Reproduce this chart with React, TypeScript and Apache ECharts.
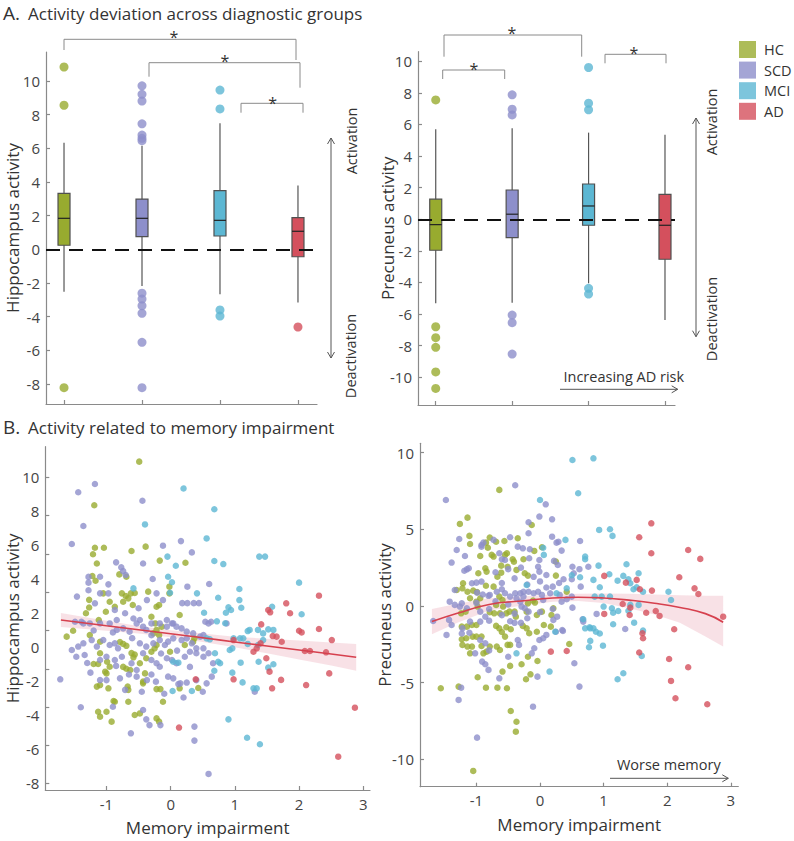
import React, { useEffect, useRef } from 'react';
import * as echarts from 'echarts';

const FONT = '"Open Sans", sans-serif';
const TEXT = '#333';
const AXIS = '#8a8a8a';

const GROUPS = ['HC', 'SCD', 'MCI', 'AD'];
const COLORS = ['#98ab2f', '#8d8fcb', '#5cb7d3', '#d4505d'];
const CAT_POS = [0, 1, 2, 3];

// box stats: [low whisker, q1, median, q3, high whisker]
const hippoBox = [
  [-2.52, 0.24, 1.84, 3.32, 6.33],
  [-2.18, 0.75, 1.84, 2.98, 6.15],
  [-2.67, 0.79, 1.72, 3.48, 7.48],
  [-3.15, -0.44, 1.07, 1.88, 3.78],
];
const precuneusBox = [
  [-5.32, -1.96, -0.34, 1.27, 5.7],
  [-5.28, -1.16, 0.32, 1.85, 5.76],
  [-4.05, -0.38, 0.84, 2.23, 5.48],
  [-6.37, -2.53, -0.38, 1.58, 5.34],
];
const hippoOutliers = [
  [10.82, 8.55, -8.21],
  [9.7, 9.2, 8.8, 7.45, 6.78, 6.59, 6.45, -2.6, -2.95, -3.35, -3.8, -5.52, -8.21],
  [9.45, 8.33, -3.6, -3.96],
  [-4.61],
];
const precuneusOutliers = [
  [7.55, -6.8, -7.49, -8.1, -9.66, -10.7],
  [7.87, 6.96, 6.6, -6.06, -6.54, -8.53],
  [9.6, 7.34, 6.92, -4.37, -4.73],
  [],
];

// B: memory impairment vs hippocampus activity
const hcMemHippo = [
  [-0.49, 10.82], [-1.19, 8.54], [-1.18, 6.32], [-1.04, 6.32], [-1.21, 5.98], [-1.15, 5.5], [-0.61, 6.15], [-0.39, 6.38],
  [-0.17, 5.65], [0.23, 5.54], [-0.8, 4.93], [-0.69, 4.81], [-1.22, 4.85], [-1.17, 4.6], [-0.76, 3.94], [-0.7, 3.8],
  [-0.66, 3.68], [-0.62, 3.94], [-0.74, 3.5], [-0.59, 3.33], [-0.56, 3.96], [-0.35, 4.03], [-0.02, 4.29], [-0.02, 3.94],
  [0.14, 2.81], [0.37, 1.59], [-1.05, 3.94], [-1.27, 3.6], [-1.27, 3.2], [-1.32, 2.9], [-1.12, 2.55], [-1.52, 1.99],
  [-1.62, 1.68], [-0.95, 3.5], [-0.87, 3.24], [-1.01, 2.98], [-0.22, 3.24], [-0.18, 3.33], [-0.24, 2.37], [-0.22, 2.03],
  [-0.18, 1.76], [-0.3, 2.72], [-1.26, 1.76], [-1.1, 1.41], [-1.1, 0.81], [-1.2, 0.25], [-1.13, 0.25], [-1.15, -0.93],
  [-1.1, -0.85], [-0.99, 0.37], [-0.95, 0.11], [-1.02, -0.15], [-1.0, -0.24], [-0.97, -1.02], [-1.13, -2.24], [-1.1, -2.5],
  [-0.87, -1.72], [-0.67, -0.93], [-0.66, -1.1], [-0.66, -1.72], [-0.43, -0.67], [-0.43, -0.76], [-0.4, -0.24], [-0.22, -1.06],
  [-0.16, -1.06], [-0.12, -1.72], [-0.48, -2.33], [-0.74, 0.1], [-0.69, 0.0], [-0.63, -0.06], [-0.61, 0.82], [-0.58, 0.6],
  [-0.56, 0.75], [-0.79, 1.4], [-0.69, 1.2], [-0.74, 1.3], [-0.48, 0.29], [-0.38, 0.55], [-0.3, 0.89], [-0.25, 1.07],
  [-0.22, 1.24], [-0.27, 1.85], [-0.14, 2.2], [-0.01, 0.89], [0.22, 1.24], [0.35, 1.41], [-0.22, -2.59], [-0.18, -2.76],
  [0.14, -1.02], [0.43, -1.0], [-1.0, -2.24], [-0.92, -2.76], [-0.56, -2.41], [-0.89, -1.68],
];
const scdMemHippo = [
  [-1.54, 6.52], [-1.44, 9.22], [-1.36, 7.46], [-1.18, 9.65], [-0.44, 8.78], [-0.43, 5.5], [-0.12, 6.43], [0.16, 6.67],
  [0.33, 6.08], [-0.85, 5.56], [-0.77, 5.3], [-0.74, 5.1], [-0.7, 4.9], [-1.28, 4.8], [-1.28, 4.5], [-1.28, 4.1],
  [-0.97, 4.41], [-0.28, 4.69], [0.26, 4.29], [0.6, 4.43], [0.18, 3.43], [0.26, 3.43], [0.36, 3.43], [0.44, 3.43],
  [0.54, 2.46], [0.63, 2.46], [-0.97, 3.94], [-1.1, 3.94], [-1.18, 3.42], [-1.39, 2.46], [-1.49, 2.46], [-0.84, 2.55],
  [-0.71, 2.9], [-0.58, 2.63], [-0.48, 2.55], [-0.43, 2.2], [-0.06, 2.55], [0.04, 2.37], [-0.5, 3.16], [-0.37, 3.59],
  [-0.22, 3.94], [-0.12, 3.59], [-0.87, 3.07], [-1.46, 3.77], [-1.1, 4.81], [-1.36, 2.37], [-1.26, 2.37], [-1.1, 2.37],
  [-0.95, 2.37], [-0.53, 2.37], [-0.3, 2.37], [-0.17, 2.37], [0.02, 2.37], [0.59, 2.37], [-0.74, 2.11], [-0.84, 2.03],
  [-0.64, 1.94], [-0.38, 2.03], [-0.06, 2.2], [0.09, 2.2], [0.17, 2.11], [0.25, 1.94], [0.35, 1.85], [0.46, 1.68],
  [0.51, 1.76], [0.87, 2.37], [-1.54, 0.98], [-1.44, 1.16], [-1.36, 1.33], [-1.23, 1.5], [-1.15, 1.16], [-1.05, 1.5],
  [-0.95, 1.24], [-0.87, 1.33], [-0.82, 1.07], [-0.48, 1.33], [-0.38, 1.16], [-0.27, 1.33], [-0.17, 1.5], [-0.09, 1.24],
  [-0.04, 1.42], [0.04, 1.59], [0.17, 1.5], [0.25, 1.59], [0.33, 1.33], [0.4, 1.07], [0.51, 1.07], [-1.47, 0.63],
  [-1.34, 0.72], [-1.1, 0.46], [-1.0, 0.63], [-0.87, 0.46], [-0.76, 0.63], [-0.61, 0.29], [-0.53, -0.06], [-0.43, 0.81],
  [-0.3, 0.46], [-0.22, 0.29], [-0.17, 0.11], [-0.06, 0.55], [0.02, 0.46], [0.09, 0.29], [0.22, 0.63], [0.3, 0.89],
  [0.4, 0.81], [0.51, 0.63], [0.59, 0.81], [0.66, 0.29], [-1.1, -0.59], [-1.0, -0.59], [-0.79, -0.5], [-0.53, -0.41],
  [-0.37, -0.59], [-0.04, -0.41], [0.04, -0.5], [0.15, -0.76], [0.25, -0.72], [0.4, -0.59], [0.56, -0.76], [0.64, -0.41],
  [-0.62, -3.37], [-0.33, -2.94], [-0.38, -2.64], [-0.16, -2.94], [0.37, -3.02], [0.37, -3.75], [-1.4, -2.01], [-1.72, -0.55],
  [-0.9, -1.98], [-0.71, -1.1], [-0.43, -2.15], [-0.23, -0.67], [0.12, -0.8], [1.31, -1.2], [0.59, -5.49],
  [-0.9, 1.9], [-0.6, 1.6], [-0.3, 1.75], [-1.2, 2.0], [-0.15, 0.8], [0.1, 0.95], [-0.65, -0.3], [-0.3, -0.3],
  [-0.85, 0.15], [0.3, 0.1], [-0.45, -1.2], [-0.1, -1.3], [0.2, -1.5], [-1.25, -0.2], [-1.3, 0.3], [0.5, -1.2],
];
const mciMemHippo = [
  [0.2, 9.42], [0.68, 8.33], [-0.4, 7.54], [0.56, 6.81], [-0.05, 5.86], [0.08, 5.38], [0.68, 5.63], [0.82, 5.47],
  [1.38, 5.86], [1.47, 5.86], [2.0, 4.5], [-0.04, 4.81], [0.02, 4.52], [-0.01, 3.97], [-0.58, 4.2], [0.41, 3.94],
  [0.74, 3.71], [1.07, 4.17], [1.07, 3.59], [1.1, 3.19], [0.9, 3.21], [0.94, 3.07], [0.52, 2.93], [0.86, 2.93],
  [1.58, 3.24], [2.04, 2.85], [0.72, 2.48], [0.85, 2.38], [1.2, 1.97], [1.52, 2.06], [1.6, 2.03], [0.98, 1.59],
  [1.23, 2.03], [1.36, 2.03], [1.44, 1.85], [1.13, 1.59], [1.08, 1.59], [0.56, 1.59], [0.61, 1.54], [0.92, 0.98],
  [0.96, 1.07], [1.2, 1.3], [1.36, 1.24], [1.44, 1.5], [0.69, 0.81], [0.74, 0.37], [0.77, 0.29], [0.04, 0.37],
  [0.12, 0.32], [0.68, -0.1], [0.96, -0.2], [1.12, -0.71], [1.09, 0.32], [1.37, 0.37], [1.52, 0.06], [1.6, 0.24],
  [0.03, -1.16], [0.33, -1.16], [1.29, -1.02], [1.34, -1.02], [0.9, -2.64], [1.19, -3.6], [1.39, -3.94],
];
const adMemHippo = [
  [2.31, 3.82], [1.8, 3.42], [1.86, 2.9], [1.52, 3.07], [1.55, 2.95], [1.41, 2.32], [2.0, 1.99], [2.04, 1.9],
  [1.59, 1.71], [1.65, 1.68], [2.31, 2.08], [2.51, 1.5], [0.98, 1.5], [1.29, 0.89], [1.34, 1.07], [1.4, 1.33],
  [1.73, 1.41], [2.09, 0.93], [2.17, 0.93], [2.42, 0.86], [1.49, 0.55], [1.54, -0.15], [0.98, -0.55], [1.72, -0.58],
  [2.47, -0.24], [1.58, -1.02], [2.11, -0.85], [0.39, -0.55], [0.13, -3.07], [2.87, -2.03], [2.61, -4.59],
];

// B: memory impairment vs precuneus activity
const hcMemPrec = [
  [-0.64, 7.57], [-1.14, 5.76], [-1.26, 5.35], [-0.13, 5.28], [-1.11, 4.57], [-1.1, 4.04], [-0.79, 4.46], [-0.69, 4.19],
  [-0.56, 4.24], [-0.35, 4.42], [-0.85, 4.13], [-0.82, 3.8], [-0.94, 3.26], [-0.76, 3.33], [-0.73, 3.22], [-0.55, 3.33],
  [-0.52, 3.44], [-0.26, 3.05], [-0.41, 2.89], [-0.43, 3.05], [-0.09, 3.59], [0.03, 3.83], [-0.86, 2.46], [-0.97, 2.13],
  [-0.84, 2.24], [-0.67, 1.91], [-0.61, 2.17], [-0.51, 2.56], [-0.61, 2.63], [-0.37, 2.35], [-0.24, 2.13], [-0.19, 1.98],
  [-1.21, 1.48], [-1.22, 1.15], [-1.31, 1.04], [-1.14, 0.93], [-1.05, 1.0], [-0.99, 0.9], [-0.94, 0.5], [-0.85, 1.32],
  [-0.73, 1.26], [-1.1, 0.5], [-1.0, 0.28], [-0.98, -0.04], [-0.64, 0.61], [-0.59, 0.39], [-0.69, 0.07], [-0.58, -0.04],
  [-0.53, -0.48], [-0.63, -0.48], [-0.72, -0.48], [-0.79, -0.41], [-0.48, -0.37], [-0.4, -0.37], [-0.38, -0.7], [-0.19, 0.17],
  [-0.11, 0.35], [-0.08, 0.22], [-0.21, -0.37], [-0.05, -0.59], [0.03, -0.37], [0.06, -1.24], [0.18, -0.59], [0.21, -0.15],
  [0.25, 1.98], [0.25, 2.89], [0.42, 0.93], [-1.24, -0.48], [-1.17, -0.37], [-1.23, -1.35], [-1.15, -1.35], [-1.0, -1.24],
  [-0.69, -1.3], [-0.64, -1.46], [-0.53, -1.39], [-0.46, -1.52], [-0.27, -1.3], [-0.21, -1.46], [-0.17, -1.78], [-0.05, -1.68],
  [-1.16, -2.11], [-1.06, -2.0], [-1.07, -1.24], [-1.23, -2.17], [-1.22, -2.54], [-1.14, -2.65], [-1.07, -2.65], [-1.1, -3.09],
  [-0.89, -3.09], [-0.84, -2.98], [-0.92, -2.61], [-0.79, -2.65], [-0.68, -2.65], [-0.63, -2.87], [-1.0, -2.0], [-0.92, -2.0],
  [-0.6, -1.7], [-0.55, -2.0], [-0.51, -2.54], [-0.47, -2.54], [-0.29, -3.8], [-0.47, -3.91], [-0.59, -4.28], [-0.98, -4.65],
  [-0.85, -5.33], [-0.67, -5.33], [-0.52, -5.37], [-1.28, -5.26], [-1.56, -5.37], [-0.22, -4.78], [-0.15, -4.46], [-0.04, -3.59],
  [-0.19, -3.31], [0.17, -1.35], [0.46, -2.48], [-0.46, -6.85], [-0.37, -7.55], [-0.38, -8.2], [-1.05, -10.76],
];
const scdMemPrec = [
  [-1.48, 6.91], [-0.39, 7.87], [0.09, 6.63], [-0.01, 5.83], [0.19, 5.65], [-0.18, 5.46], [-1.27, 4.37], [-1.31, 3.65],
  [-1.39, 2.83], [-1.18, 3.26], [-1.15, 2.39], [-1.19, 2.3], [-1.12, 2.46], [-0.92, 3.98], [-0.89, 4.13], [-0.92, 3.87],
  [-0.73, 4.31], [-0.64, 3.44], [-0.6, 3.05], [-0.55, 3.0], [-0.47, 4.48], [-0.35, 3.87], [-0.27, 3.76], [-0.18, 4.74],
  [-0.16, 3.7], [-0.17, 3.11], [-0.01, 3.0], [-0.03, 2.56], [-0.01, 2.24], [0.1, 2.02], [0.19, 4.52], [0.26, 4.13],
  [0.29, 4.19], [0.34, 3.61], [0.22, 2.94], [0.28, 2.67], [0.51, 2.56], [0.53, 2.13], [0.5, 1.74], [0.63, 4.24],
  [0.62, 2.4], [0.76, 2.56], [0.37, 1.74], [0.64, 1.26], [-1.07, 1.48], [-1.0, 1.52], [-0.92, 1.59], [-1.34, 1.04],
  [-0.99, 0.87], [-0.9, 0.75], [-0.81, 0.66], [-0.79, 0.72], [-0.68, 0.93], [-0.6, 1.09], [-0.55, 0.83], [-0.47, 0.61],
  [-0.39, 0.83], [-0.37, 0.5], [-0.31, 0.83], [-0.26, 0.93], [-0.26, 0.61], [-0.18, 0.93], [-0.1, 0.83], [-0.03, 0.93],
  [0.03, 0.72], [0.05, 0.39], [0.16, 0.83], [0.2, 1.26], [0.31, 0.72], [0.34, 0.28], [0.42, 0.44], [0.5, 0.61],
  [0.51, -0.11], [0.67, -0.87], [0.89, -0.52], [-1.68, -0.98], [-1.43, -0.91], [-1.39, -1.24], [-1.26, -0.04], [-1.23, 0.17],
  [-1.15, -0.15], [-1.34, 0.07], [-1.42, 0.28], [-0.94, -0.37], [-0.86, -0.7], [-0.8, -0.96], [-0.94, -1.02], [-1.1, -1.02],
  [-0.29, -0.04], [-0.24, -0.15], [-0.18, -0.37], [-0.31, 0.28], [-0.47, -1.0], [-0.4, -1.1], [-0.3, -1.1], [0.21, -0.91],
  [0.27, -0.7], [0.35, -1.57], [0.25, -1.68], [-1.47, -1.89], [-1.23, -1.8], [-1.11, -1.75], [-1.22, -1.46], [-1.02, -3.09],
  [-0.94, -2.22], [-0.86, -2.43], [-0.91, -3.63], [-0.86, -3.8], [-0.81, -4.17], [-0.64, -4.72], [-0.8, -2.9], [-0.5, -3.31],
  [-0.35, -2.22], [-0.33, -2.54], [-0.13, -3.09], [-0.09, -2.76], [-0.04, -4.61], [-0.01, -2.22], [0.05, -2.11], [0.1, -1.89],
  [0.36, -1.63], [0.54, -3.74], [0.62, -5.26], [-1.24, -5.33], [-1.28, -6.13], [-0.11, -6.57], [-0.99, -8.59], [1.34, -1.5],
  [0.68, -1.02], [-0.6, 1.5], [-0.4, 1.8], [-0.2, 1.4], [0.0, 1.6], [-0.7, 2.2], [-0.5, 2.4], [-0.3, 2.5],
  [-0.1, 1.9], [0.1, 1.2], [0.3, 1.5], [-0.8, -0.2], [-0.6, -0.6], [-0.4, -0.5], [-0.2, -0.8], [0.0, -0.4],
  [0.2, -0.2], [-1.0, 0.2], [-0.7, 0.3], [-0.5, 0.1],
];
const mciMemPrec = [
  [0.51, 9.52], [0.84, 9.63], [0.6, 7.35], [0.0, 6.91], [0.93, 4.96], [1.1, 5.0], [1.14, 4.57], [0.05, 3.8],
  [0.06, 3.33], [0.71, 3.22], [0.71, 3.05], [0.4, 4.31], [0.92, 2.63], [1.36, 2.72], [1.55, 2.13], [1.09, 2.07],
  [1.31, 1.96], [1.39, 1.74], [1.42, 1.48], [1.22, 1.65], [0.84, 1.7], [0.94, 1.22], [0.63, 1.87], [0.5, 2.0],
  [1.47, 1.09], [1.52, 1.22], [1.62, 0.93], [2.02, 0.93], [2.06, 0.39], [0.86, 0.61], [0.97, 0.61], [1.1, 0.61],
  [1.0, -0.04], [1.13, -0.15], [1.15, -0.44], [1.23, -0.33], [1.42, 0.07], [1.39, -0.31], [1.55, 0.07], [1.15, -1.19],
  [1.48, -1.09], [1.62, -1.61], [0.68, -0.87], [0.79, -1.46], [0.84, -1.46], [0.94, -1.8], [-0.21, 1.37], [0.42, 1.15],
  [0.26, 0.83], [0.24, -1.68], [0.71, -1.46], [0.78, -1.39], [0.88, -1.68], [0.79, -2.28], [0.77, -2.69], [0.99, -2.59],
  [1.6, -3.26], [0.15, -4.28], [1.22, -4.78], [1.31, -4.39], [-0.37, -3.09],
];
const adMemPrec = [
  [1.75, 5.39], [1.56, 4.48], [1.75, 3.44], [2.33, 3.65], [2.52, 3.07], [2.19, 1.87], [2.43, 1.15], [2.49, 0.78],
  [1.01, 1.96], [1.35, 1.52], [1.52, 1.7], [1.57, 1.09], [1.76, 1.0], [1.3, 0.13], [1.42, -0.11], [1.41, -0.59],
  [1.01, -0.52], [1.67, -0.44], [1.82, -0.33], [1.88, -0.65], [2.88, -0.7], [2.11, -1.52], [1.61, -1.78], [1.62, -2.11],
  [1.56, -3.04], [0.17, -2.98], [0.42, -2.94], [2.03, -3.46], [2.33, -4.0], [2.06, -4.89], [2.13, -6.02], [2.63, -6.41],
];

// fitted curves and confidence bands
const fitHippoX = [-1.71, -1.0, -0.5, 0.0, 0.5, 1.0, 1.5, 2.0, 2.5, 2.89];
const fitHippoY = [2.55, 2.25, 2.04, 1.83, 1.62, 1.4, 1.19, 0.98, 0.77, 0.6];
const fitHippoLo = [2.18, 1.99, 1.84, 1.65, 1.4, 1.12, 0.81, 0.48, 0.17, -0.1];
const fitHippoHi = [2.92, 2.51, 2.24, 2.01, 1.84, 1.68, 1.57, 1.48, 1.37, 1.3];

const fitPrecX = [-1.7, -1.3, -0.8, -0.3, 0.2, 0.6, 1.0, 1.4, 1.8, 2.2, 2.6, 2.88];
const fitPrecY = [-1.02, -0.48, 0.1, 0.32, 0.52, 0.57, 0.52, 0.38, 0.18, -0.1, -0.5, -1.06];
const fitPrecLo = [-1.85, -1.1, -0.3, 0.02, 0.28, 0.33, 0.2, -0.15, -0.55, -1.1, -2.0, -2.65];
const fitPrecHi = [-0.2, 0.15, 0.5, 0.62, 0.75, 0.8, 0.82, 0.8, 0.75, 0.7, 0.67, 0.67];

// tick values
const hippoTicksA = [-8, -6, -4, -2, 0, 2, 4, 6, 8, 10];
const precTicksA = [-10, -8, -6, -4, -2, 0, 2, 4, 6, 8, 10];
const hippoTicksB = [-6, -4, -2, 0, 2, 4, 6, 8, 10];
const hippoLabelsB = [-8, -6, -4, -2, 0, 2, 4, 6, 8, 10];
const precTicksB = [-10, -5, 0, 5, 10];
const memTicks = [-1, 0, 1, 2, 3];

const axisLine = { show: true, onZero: false, lineStyle: { color: AXIS, width: 1.2 } };
const tick = (vals: number[]) => ({ show: true, inside: true, length: 4, lineStyle: { color: AXIS, width: 1.2 }, customValues: vals });
const label = (vals: number[]) => ({ show: true, customValues: vals, fontSize: 15, color: '#444', fontFamily: FONT, margin: 6 });
const nameStyle = { fontSize: 17, color: TEXT, fontFamily: FONT };
const BAND = 'rgba(214, 80, 105, 0.17)';

function boxRender(colors: string[]) {
  return (params: any, api: any) => {
    const x = api.value(0);
    const lo = api.coord([x, api.value(1)]);
    const q1 = api.coord([x, api.value(2)]);
    const md = api.coord([x, api.value(3)]);
    const q3 = api.coord([x, api.value(4)]);
    const hi = api.coord([x, api.value(5)]);
    const w = 12;
    return {
      type: 'group',
      children: [
        { type: 'line', shape: { x1: lo[0], y1: lo[1], x2: hi[0], y2: hi[1] }, style: { stroke: '#555', lineWidth: 1.2 } },
        { type: 'rect', shape: { x: q3[0] - w / 2, y: q3[1], width: w, height: q1[1] - q3[1] }, style: { fill: colors[params.dataIndex], stroke: '#505050', lineWidth: 1.2 } },
        { type: 'line', shape: { x1: md[0] - w / 2, y1: md[1], x2: md[0] + w / 2, y2: md[1] }, style: { stroke: '#222', lineWidth: 1.2 } },
      ],
    };
  };
}

function bandRender(xs: number[], lo: number[], hi: number[]) {
  return (params: any, api: any) => {
    if (params.dataIndex !== 0) return null;
    const top = xs.map((x, k) => api.coord([x, hi[k]]));
    const bot = xs.map((x, k) => api.coord([x, lo[k]])).reverse();
    return { type: 'polygon', shape: { points: top.concat(bot) }, style: { fill: BAND } };
  };
}

const zeroLine = {
  silent: true,
  symbol: 'none',
  label: { show: false },
  lineStyle: { color: '#111', width: 2, type: [14, 9] },
  data: [{ yAxis: 0 }],
  z: 10,
};

function txt(x: number, y: number, text: string, size = 14.5, rotation = 0, align = 'center') {
  return {
    type: 'text', x, y, rotation, silent: true,
    style: { text, fontSize: size, fontFamily: FONT, fill: TEXT, align, verticalAlign: 'middle' },
  };
}
function bracket(pts: number[][]) {
  return { type: 'polyline', silent: true, shape: { points: pts }, style: { stroke: '#8a8a8a', lineWidth: 1, fill: null } };
}
function vArrow(x: number, y1: number, y2: number) {
  const s = { stroke: '#555', lineWidth: 1, fill: null };
  return [
    { type: 'line', silent: true, shape: { x1: x, y1, x2: x, y2 }, style: s },
    { type: 'polyline', silent: true, shape: { points: [[x - 3.5, y1 + 6], [x, y1], [x + 3.5, y1 + 6]] }, style: s },
    { type: 'polyline', silent: true, shape: { points: [[x - 3.5, y2 - 6], [x, y2], [x + 3.5, y2 - 6]] }, style: s },
  ];
}
function hArrow(x1: number, x2: number, y: number) {
  const s = { stroke: '#555', lineWidth: 1, fill: null };
  return [
    { type: 'line', silent: true, shape: { x1, y1: y, x2, y2: y }, style: s },
    { type: 'polyline', silent: true, shape: { points: [[x2 - 6, y - 3.5], [x2, y], [x2 - 6, y + 3.5]] }, style: s },
  ];
}

function axisName(name: string, gap: number) {
  return { name, nameLocation: 'middle', nameGap: gap, nameMoveOverlap: false, nameTextStyle: nameStyle };
}

function buildOption() {
  const series: any[] = [];
  series.push({
    type: 'custom', xAxisIndex: 0, yAxisIndex: 0, silent: true, clip: false, z: 2,
    renderItem: boxRender(COLORS), encode: { x: 0, y: [1, 2, 3, 4, 5] },
    data: hippoBox.map((b, i) => [CAT_POS[i], ...b]),
  });
  series.push({
    type: 'custom', xAxisIndex: 1, yAxisIndex: 1, silent: true, clip: false, z: 2,
    renderItem: boxRender(COLORS), encode: { x: 0, y: [1, 2, 3, 4, 5] },
    data: precuneusBox.map((b, i) => [CAT_POS[i], ...b]),
  });
  GROUPS.forEach((g, i) => {
    series.push({
      type: 'scatter', name: g, xAxisIndex: 0, yAxisIndex: 0, symbolSize: 9, z: 3, silent: true,
      itemStyle: { color: COLORS[i] }, data: hippoOutliers[i].map((v) => [CAT_POS[i], v]),
      ...(i === 0 ? { markLine: zeroLine } : {}),
    });
    series.push({
      type: 'scatter', name: g, xAxisIndex: 1, yAxisIndex: 1, symbolSize: 9, z: 3, silent: true,
      itemStyle: { color: COLORS[i] }, data: precuneusOutliers[i].map((v) => [CAT_POS[i], v]),
      ...(i === 0 ? { markLine: zeroLine } : {}),
    });
  });
  const memHippo = [hcMemHippo, scdMemHippo, mciMemHippo, adMemHippo];
  const memPrec = [hcMemPrec, scdMemPrec, mciMemPrec, adMemPrec];
  series.push({
    type: 'custom', xAxisIndex: 2, yAxisIndex: 2, silent: true, z: 1,
    renderItem: bandRender(fitHippoX, fitHippoLo, fitHippoHi), encode: { x: 0, y: [1, 2] },
    data: fitHippoX.map((x, k) => [x, fitHippoLo[k], fitHippoHi[k]]),
  });
  series.push({
    type: 'custom', xAxisIndex: 3, yAxisIndex: 4, silent: true, z: 1,
    renderItem: bandRender(fitPrecX, fitPrecLo, fitPrecHi), encode: { x: 0, y: [1, 2] },
    data: fitPrecX.map((x, k) => [x, fitPrecLo[k], fitPrecHi[k]]),
  });
  GROUPS.forEach((g, i) => {
    series.push({
      type: 'scatter', name: g, xAxisIndex: 2, yAxisIndex: 2, symbolSize: 6.5, z: 3, silent: true,
      itemStyle: { color: COLORS[i] }, data: memHippo[i],
    });
    series.push({
      type: 'scatter', name: g, xAxisIndex: 3, yAxisIndex: 4, symbolSize: 6.5, z: 3, silent: true,
      itemStyle: { color: COLORS[i] }, data: memPrec[i],
    });
  });
  series.push({
    type: 'line', xAxisIndex: 2, yAxisIndex: 2, symbol: 'none', smooth: true, silent: true, z: 4,
    lineStyle: { color: '#d6404e', width: 1.6 }, data: fitHippoX.map((x, k) => [x, fitHippoY[k]]),
  });
  series.push({
    type: 'line', xAxisIndex: 3, yAxisIndex: 4, symbol: 'none', smooth: true, silent: true, z: 4,
    lineStyle: { color: '#d6404e', width: 1.6 }, data: fitPrecX.map((x, k) => [x, fitPrecY[k]]),
  });

  const graphic: any[] = [
    txt(3, 13, 'A.', 19, 0, 'left'),
    txt(28, 13, 'Activity deviation across diagnostic groups', 17, 0, 'left'),
    txt(3, 427, 'B.', 19, 0, 'left'),
    txt(28, 427, 'Activity related to memory impairment', 17, 0, 'left'),
    bracket([[64, 50], [64, 39.3], [296, 39.3], [296, 60]]),
    bracket([[149, 76.7], [149, 62.7], [300, 62.7], [300, 87.7]]),
    bracket([[241, 112.7], [241, 103.3], [303, 103.3], [303, 112.7]]),
    bracket([[444, 56.7], [444, 35], [581.7, 35], [581.7, 56.7]]),
    bracket([[442.7, 79], [442.7, 70], [504.7, 70], [504.7, 79]]),
    bracket([[605, 63.3], [605, 54.3], [666, 54.3], [666, 63.3]]),
    txt(174, 37, '*', 16), txt(225, 61, '*', 16), txt(272.7, 102.7, '*', 16),
    txt(512, 33, '*', 16), txt(474, 69, '*', 16), txt(634, 53.3, '*', 16),
    ...vArrow(331, 138, 358),
    ...vArrow(696, 118, 336.7),
    ...hArrow(560, 677.7, 389.3),
    ...hArrow(610, 728.3, 778.3),
    txt(351, 141, 'Activation', 14.5, Math.PI / 2),
    txt(350, 356, 'Deactivation', 14.5, Math.PI / 2),
    txt(711.7, 122, 'Activation', 14.5, Math.PI / 2),
    txt(711, 319, 'Deactivation', 14.5, Math.PI / 2),
    txt(623.8, 376, 'Increasing AD risk', 14.5),
    txt(668.8, 764, 'Worse memory', 14.5),
  ];

  return {
    animation: false,
    backgroundColor: '#fff',
    textStyle: { fontFamily: FONT },
    legend: {
      data: GROUPS, orient: 'vertical', left: 739, top: 41, padding: 0, itemWidth: 17, itemHeight: 17, itemGap: 3.6,
      icon: 'rect', selectedMode: false,
      textStyle: { fontSize: 14.5, color: TEXT, fontFamily: FONT, padding: [0, 0, 0, 3] },
    },
    grid: [
      { left: 46, top: 52, width: 271, height: 352 },
      { left: 418, top: 51.7, width: 257, height: 353.3 },
      { left: 45.3, top: 446.7, width: 324.7, height: 343.3 },
      { left: 420, top: 443.3, width: 318.3, height: 343.4 },
    ],
    xAxis: [
      { type: 'value', gridIndex: 0, min: -0.231, max: 3.244, axisLine, axisTick: tick(CAT_POS), axisLabel: { show: false }, splitLine: { show: false } },
      { type: 'value', gridIndex: 1, min: -0.232, max: 3.131, axisLine, axisTick: tick(CAT_POS), axisLabel: { show: false }, splitLine: { show: false } },
      { type: 'value', gridIndex: 2, min: -1.953, max: 3.105, axisLine, axisTick: tick(memTicks), axisLabel: label(memTicks), splitLine: { show: false },
        ...axisName('Memory impairment', 29) },
      { type: 'value', gridIndex: 3, min: -1.887, max: 3.118, axisLine, axisTick: tick(memTicks), axisLabel: label(memTicks), splitLine: { show: false },
        ...axisName('Memory impairment', 29) },
    ],
    yAxis: [
      { type: 'value', gridIndex: 0, min: -9.18, max: 11.71, axisLine, axisTick: tick(hippoTicksA), axisLabel: label(hippoTicksA), splitLine: { show: false },
        ...axisName('Hippocampus activity', 25) },
      { type: 'value', gridIndex: 1, min: -11.75, max: 10.6, axisLine, axisTick: tick(precTicksA), axisLabel: label(precTicksA), splitLine: { show: false },
        ...axisName('Precuneus activity', 22) },
      { type: 'value', gridIndex: 2, position: 'left', offset: 0, min: -6.33, max: 11.6, axisLine, axisTick: tick(hippoTicksB), axisLabel: { show: false }, splitLine: { show: false } },
      { type: 'value', gridIndex: 2, position: 'left', offset: 0, min: -8.43, max: 11.8, axisLine: { show: false, onZero: false }, axisTick: { show: false }, axisLabel: label(hippoLabelsB), splitLine: { show: false },
        ...axisName('Hippocampus activity', 24) },
      { type: 'value', gridIndex: 3, min: -11.79, max: 10.61, axisLine, axisTick: tick(precTicksB), axisLabel: label(precTicksB), splitLine: { show: false },
        ...axisName('Precuneus activity', 27) },
    ],
    series,
    graphic,
  };
}

export default function App() {
  const ref = useRef<HTMLDivElement>(null);
  useEffect(() => {
    if (!ref.current) return;
    const chart = echarts.init(ref.current, null, { renderer: 'svg' });
    chart.setOption(buildOption() as any);
    return () => chart.dispose();
  }, []);
  return <div ref={ref} style={{ position: 'absolute', left: 0, top: 0, width: 794, height: 841 }} />;
}
